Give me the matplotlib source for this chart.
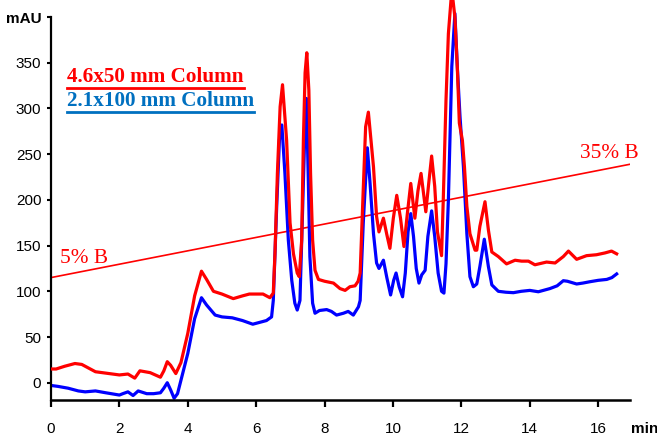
import matplotlib
matplotlib.use("Agg")
import matplotlib.pyplot as plt
from matplotlib.lines import Line2D

# Retention time (min) and absorbance (mAU), 4.6x50 mm column
red_t = [0.0, 0.15, 0.4, 0.7, 0.9, 1.1, 1.3, 1.7, 2.0, 2.25, 2.45, 2.6, 2.9, 3.2, 3.3, 3.4, 3.5,
         3.65, 3.8, 4.0, 4.2, 4.4, 4.55, 4.75, 5.0, 5.33, 5.6, 5.8, 6.2, 6.4, 6.5, 6.55, 6.62,
         6.70, 6.77, 6.89, 6.99, 7.09, 7.2, 7.26, 7.33, 7.38, 7.43, 7.48, 7.54, 7.59, 7.65, 7.72,
         7.82, 8.0, 8.26, 8.45, 8.6, 8.74, 8.89, 8.98, 9.04, 9.13, 9.2, 9.28, 9.43, 9.52, 9.59,
         9.72, 9.82, 9.91, 10.01, 10.11, 10.22, 10.32, 10.42, 10.52, 10.64, 10.73, 10.82, 10.9,
         10.96, 11.05, 11.13, 11.22, 11.3, 11.42, 11.47, 11.55, 11.62, 11.72, 11.81, 11.88, 11.94,
         12.03, 12.09, 12.16, 12.25, 12.4, 12.45, 12.54, 12.69, 12.79, 12.89, 13.08, 13.32, 13.57,
         13.76, 13.96, 14.15, 14.49, 14.74, 14.98, 15.13, 15.37, 15.66, 15.95, 16.2, 16.39, 16.54]
red_y = [15, 15, 18, 21, 20, 16, 12, 10, 8.5, 9.5, 5, 13, 11, 6, 13, 23, 19,
         10, 22, 54, 95, 122, 113, 100, 97, 92, 95, 97, 97, 93, 98, 142, 229,
         302, 326, 265, 175, 141, 120, 116, 156, 265, 339, 361, 320, 229, 156, 123,
         113, 111, 109, 103, 101, 105, 106, 111, 120, 211, 280, 296, 236, 182, 165,
         180, 162, 147, 180, 205, 180, 149, 185, 218, 180, 210, 229, 205,
         187, 220, 248, 215, 165, 139, 200, 309, 382, 430, 400, 346, 284,
         265, 236, 193, 163, 145, 145, 171, 198, 167, 143, 138, 130, 134,
         133, 133, 129, 132, 131, 138, 144, 135, 139, 140, 142, 144, 141]

# 2.1x100 mm column
blue_t = [0.0, 0.2, 0.5, 0.8, 1.0, 1.3, 1.6, 2.0, 2.1, 2.25, 2.4, 2.55, 2.8, 3.0, 3.2, 3.3, 3.4,
          3.5, 3.6, 3.7, 3.85, 4.0, 4.2, 4.4, 4.55, 4.8, 5.0, 5.3, 5.6, 5.9, 6.1, 6.3, 6.45, 6.5,
          6.6, 6.68, 6.75, 6.84, 6.94, 7.04, 7.13, 7.2, 7.28, 7.36, 7.43, 7.47, 7.52, 7.57, 7.65,
          7.72, 7.85, 8.06, 8.2, 8.35, 8.55, 8.69, 8.84, 8.99, 9.04, 9.13, 9.25, 9.33, 9.43, 9.52,
          9.59, 9.72, 9.82, 9.93, 10.02, 10.09, 10.18, 10.28, 10.36, 10.44, 10.52, 10.6, 10.68,
          10.76, 10.84, 10.94, 11.02, 11.13, 11.22, 11.32, 11.42, 11.49, 11.55, 11.62, 11.72, 11.81,
          11.88, 11.96, 12.06, 12.16, 12.25, 12.35, 12.45, 12.54, 12.67, 12.79, 12.89, 13.08, 13.3,
          13.52, 13.75, 14.0, 14.25, 14.59, 14.8, 14.98, 15.1, 15.37, 15.55, 15.76, 16.0, 16.25,
          16.4, 16.54]
blue_y = [-3, -4, -6, -9, -10, -9, -11, -13.5, -12, -10, -14, -9, -12, -12, -11, -6, 0,
          -8, -17, -12, 10, 32, 70, 93, 85, 74, 72, 71, 68, 64, 66, 68, 72, 90,
          193, 266, 282, 229, 156, 112, 87, 79.5, 90, 193, 284, 311, 229, 138, 87,
          76, 79, 80, 78, 74, 76, 78, 74, 83, 90, 174, 257, 218, 163, 131,
          125, 134, 115, 96, 112, 120, 105, 94, 120, 165, 185, 160, 125,
          109, 118, 123, 160, 188, 160, 120, 100, 98, 130, 200, 346, 404,
          346, 291, 236, 163, 116, 105, 108, 127, 157, 127, 107, 100, 99,
          98.5, 100, 101, 99.5, 103, 106, 111.6, 111, 108, 109, 110.5, 112, 113,
          115, 119]

# Gradient from 5% B to 35% B, drawn on the same mAU scale
grad_t = [0.0, 16.93]
grad_y = [115, 239]

x_ticks = [0, 2, 4, 6, 8, 10, 12, 14, 16]
y_ticks = [0, 50, 100, 150, 200, 250, 300, 350, 400]
y_labels = ["0", "50", "100", "150", "200", "250", "300", "350", "mAU"]

RED = "#ff0000"
BLUE = "#0000ff"
TEXT_BLUE = "#0070c0"

plt.rcParams["font.family"] = ["Liberation Sans", "DejaVu Sans"]

fig = plt.figure(figsize=(6.57, 4.37), dpi=100)
ax = fig.add_axes([0.0776, 0.0847, 0.8813, 0.9153])

ax.plot(grad_t, grad_y, color=RED, lw=1.2, zorder=1)
ax.plot(blue_t, blue_y, color=BLUE, lw=2.3, solid_joinstyle="round", zorder=2)
ax.plot(red_t, red_y, color=RED, lw=2.3, solid_joinstyle="round", zorder=3)

ax.set_xlim(0, 16.93)
ax.set_ylim(-18.9, 418.7)

for side in ("top", "right"):
    ax.spines[side].set_visible(False)
ax.spines["left"].set_bounds(-18.9, 400)
ax.spines["left"].set_linewidth(1.6)
ax.spines["bottom"].set_linewidth(1.8)

ax.set_xticks(x_ticks)
ax.set_yticks(y_ticks)
ax.set_yticklabels(y_labels)
ax.tick_params(axis="x", direction="out", length=5, width=1.6, pad=10.5, labelsize=11)
ax.tick_params(axis="y", direction="out", length=3, width=1.5, pad=4, labelsize=11)
ax.get_yticklabels()[-1].set_fontweight("bold")

ax.text(17.35, -0.072, "min", transform=ax.get_xaxis_transform(), fontsize=11,
        fontweight="bold", ha="center", va="center", clip_on=False)

serif = ["Liberation Serif", "DejaVu Serif"]
ax.text(0.26, 131, "5% B", color=RED, fontsize=15.3, family=serif)
ax.text(15.47, 246, "35% B", color=RED, fontsize=15.3, family=serif)

t1 = fig.text(67 / 657, 1 - 82 / 437, "4.6x50 mm Column", color=RED, fontsize=15.2,
              fontweight="bold", family=serif, va="baseline")
t2 = fig.text(67 / 657, 1 - 106 / 437, "2.1x100 mm Column", color=TEXT_BLUE, fontsize=15.2,
              fontweight="bold", family=serif, va="baseline")

# underline the two column labels
fig.canvas.draw()
for t, c in ((t1, RED), (t2, TEXT_BLUE)):
    bb = t.get_window_extent()
    x0, x1 = bb.x0 / fig.bbox.width, bb.x1 / fig.bbox.width
    y = (bb.y0 - 0.5) / fig.bbox.height
    fig.add_artist(Line2D([x0, x1], [y, y], color=c, lw=2.0, transform=fig.transFigure))

fig.savefig("out.png", dpi=100)
